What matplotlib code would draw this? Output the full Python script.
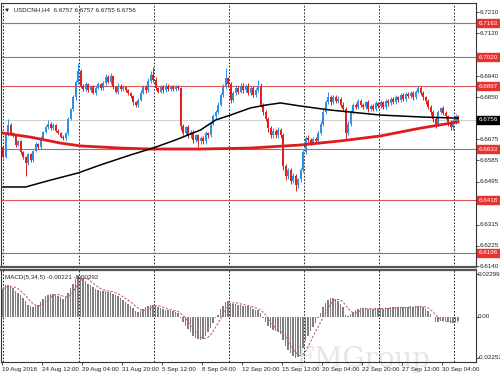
import matplotlib
matplotlib.use('Agg')
import matplotlib.pyplot as plt
import matplotlib.transforms as mtransforms
import pandas as pd

# USDCNH H4 closes, one per bar (19 Aug 2016 20:00 .. 3 Oct 2016)
closes = [
    6.6600, 6.6690, 6.6735, 6.6700, 6.6690, 6.6650, 6.6665, 6.6620, 6.6600, 6.6575,
    6.6610, 6.6585, 6.6625, 6.6655, 6.6640, 6.6680, 6.6705, 6.6725, 6.6740, 6.6720,
    6.6735, 6.6710, 6.6700, 6.6685, 6.6680, 6.6700, 6.6760, 6.6800, 6.6850, 6.6915,
    6.6960, 6.6900, 6.6885, 6.6905, 6.6880, 6.6895, 6.6870, 6.6890, 6.6905, 6.6890,
    6.6910, 6.6935, 6.6915, 6.6940, 6.6895, 6.6875, 6.6900, 6.6885, 6.6895, 6.6880,
    6.6870, 6.6855, 6.6830, 6.6820, 6.6840, 6.6870, 6.6895, 6.6880, 6.6920, 6.6945,
    6.6925, 6.6890, 6.6875, 6.6895, 6.6880, 6.6900, 6.6885, 6.6895, 6.6885, 6.6895,
    6.6890, 6.6730, 6.6700, 6.6725, 6.6690, 6.6705, 6.6670, 6.6690, 6.6665, 6.6680,
    6.6665, 6.6700, 6.6690, 6.6740, 6.6770, 6.6790, 6.6820, 6.6860, 6.6895, 6.6930,
    6.6905, 6.6840, 6.6870, 6.6890, 6.6875, 6.6900, 6.6880, 6.6900, 6.6870, 6.6890,
    6.6860, 6.6880, 6.6900, 6.6820, 6.6790, 6.6760, 6.6720, 6.6690, 6.6710, 6.6690,
    6.6715, 6.6690, 6.6560, 6.6520, 6.6545, 6.6500, 6.6520, 6.6480, 6.6505, 6.6545,
    6.6620, 6.6680, 6.6670, 6.6660, 6.6675, 6.6665, 6.6700, 6.6740, 6.6790, 6.6830,
    6.6850, 6.6830, 6.6850, 6.6835, 6.6845, 6.6820, 6.6800, 6.6700, 6.6740, 6.6790,
    6.6820, 6.6810, 6.6835, 6.6820, 6.6810, 6.6830, 6.6800, 6.6815, 6.6800, 6.6825,
    6.6815, 6.6830, 6.6810, 6.6835, 6.6825, 6.6845, 6.6830, 6.6850, 6.6840, 6.6860,
    6.6845, 6.6865, 6.6855, 6.6870, 6.6850, 6.6875, 6.6890, 6.6870, 6.6850, 6.6835,
    6.6810, 6.6790, 6.6760, 6.6740, 6.6790, 6.6805, 6.6785, 6.6770, 6.6745, 6.6725,
    6.6750, 6.6770, 6.6756,
]
first_open = 6.6640

# upper / lower wick length in pips
upper_pips = [
    5, 6, 25, 8, 4, 5, 6, 4, 5, 4,
    6, 5, 4, 7, 5, 6, 5, 8, 15, 6,
    7, 5, 6, 4, 5, 6, 8, 7, 9, 10,
    35, 12, 8, 10, 7, 9, 6, 8, 12, 7,
    10, 15, 8, 12, 6, 5, 9, 6, 8, 5,
    6, 5, 4, 6, 8, 10, 7, 9, 12, 15,
    35, 10, 6, 8, 7, 9, 6, 8, 7, 6,
    8, 6, 10, 7, 9, 6, 8, 7, 6, 8,
    7, 9, 6, 8, 10, 7, 9, 8, 10, 45,
    8, 10, 9, 12, 8, 9, 10, 8, 9, 10,
    8, 9, 25, 10, 8, 7, 9, 8, 10, 7,
    9, 8, 10, 9, 8, 9, 10, 8, 7, 9,
    8, 7, 10, 9, 8, 7, 10, 9, 12, 10,
    25, 10, 12, 9, 10, 8, 9, 10, 9, 8,
    7, 8, 9, 10, 8, 7, 9, 8, 7, 9,
    8, 9, 7, 8, 9, 8, 7, 9, 8, 10,
    8, 9, 8, 7, 9, 8, 10, 8, 9, 7,
    8, 10, 7, 9, 8, 6, 10, 8, 7, 9,
    8, 10, 5,
]
lower_pips = [
    6, 5, 4, 6, 5, 8, 5, 6, 7, 55,
    8, 6, 7, 5, 8, 6, 5, 4, 6, 5,
    6, 7, 5, 6, 8, 10, 6, 5, 8, 10,
    8, 10, 7, 9, 6, 8, 7, 9, 6, 8,
    7, 9, 6, 8, 10, 7, 9, 8, 6, 7,
    8, 9, 10, 12, 8, 6, 7, 9, 8, 7,
    9, 8, 7, 6, 9, 8, 7, 6, 8, 7,
    8, 15, 10, 9, 12, 10, 12, 9, 25, 10,
    10, 9, 12, 8, 7, 9, 8, 7, 9, 8,
    10, 12, 8, 9, 10, 8, 9, 7, 10, 8,
    9, 8, 7, 10, 12, 9, 15, 12, 10, 12,
    10, 12, 15, 18, 12, 15, 10, 25, 12, 10,
    8, 10, 12, 9, 10, 8, 9, 7, 8, 9,
    8, 10, 9, 8, 10, 12, 9, 30, 10, 8,
    9, 8, 7, 9, 8, 7, 10, 8, 9, 7,
    8, 9, 7, 8, 9, 8, 7, 9, 8, 7,
    8, 9, 7, 8, 9, 8, 7, 9, 10, 12,
    10, 12, 15, 20, 12, 10, 9, 12, 15, 14,
    12, 10, 6,
]

# MACD(5,34,5) main values, in units of 0.001
macd_main = [
    15, 17, 17, 16.5, 15.5, 14, 13, 11.5, 10, 8.5,
    6.5, 5.5, 5, 5.5, 6.5, 8, 9.5, 11, 12, 12.5,
    12.5, 12, 11, 10.5, 9.5, 10.5, 13, 15.5, 18, 20.5,
    22, 22, 21, 19.5, 18, 17, 16, 15, 14.5, 14,
    14, 14, 13.5, 13.5, 12.5, 11.5, 11, 10, 9, 8,
    7, 6, 4.5, 3, 2.5, 3, 4, 5, 5.5, 6.5,
    6.5, 6, 5, 4.5, 4, 3.5, 3.5, 3, 3, 2.5,
    2, -1, -3, -5, -7, -8.5, -10.5, -11.5, -12.5, -13,
    -12, -10.5, -8.5, -6, -3.5, -1, 1, 4, 6, 8,
    8.5, 7.5, 7, 7, 6.5, 6.5, 6, 5.5, 5.5, 5,
    4, 3.5, 3.5, 2, -1, -3, -5, -6.5, -7.5, -8,
    -8.5, -9.5, -13, -16, -18, -20, -21.5, -22.5, -22, -20.5,
    -17, -13.5, -10.5, -8, -5.5, -3.5, -1, 2, 5, 7.5,
    9, 10, 10, 9.5, 8.5, 7, 5, 1, 0.5, 1.5,
    2.5, 3.5, 4, 4.5, 4.5, 4.5, 4, 4, 4, 4.5,
    4.5, 4.5, 4, 4.5, 4.5, 5, 5, 5, 5, 5,
    5, 5, 5, 5.5, 5, 5.5, 6, 5.5, 5, 4,
    3, 1.5, -0.5, -3, -3, -2.5, -2.5, -2.5, -3, -3.5,
    -3.5, -3, -2.21,
]

# moving averages (bar index, price)
ma_black_idx = [0, 9, 19, 30, 39, 51, 60, 69, 79, 85, 91, 99, 105, 111, 119, 131, 151, 167, 182]
ma_black_val = [6.6473, 6.6473, 6.6502, 6.6532, 6.6566, 6.6608, 6.6637, 6.6671, 6.6713, 6.6755,
                6.6776, 6.6806, 6.6818, 6.6827, 6.6814, 6.6797, 6.6776, 6.6768, 6.6763]
ma_red_idx = [0, 11, 23, 31, 47, 59, 79, 99, 119, 135, 151, 167, 182]
ma_red_val = [6.6700, 6.6683, 6.6658, 6.6646, 6.6637, 6.6633, 6.6633, 6.6637, 6.6650, 6.6667,
              6.6688, 6.6721, 6.6747]

levels = [6.7163, 6.7020, 6.6897, 6.6633, 6.6418, 6.6196]
price_ticks = [6.7210, 6.7120, 6.6940, 6.6850, 6.6675, 6.6585, 6.6495, 6.6405, 6.6315, 6.6225, 6.6140]
last_price = 6.6756

date_labels = ['19 Aug 2016', '24 Aug 12:00', '29 Aug 04:00', '31 Aug 20:00', '5 Sep 12:00',
               '8 Sep 04:00', '12 Sep 20:00', '15 Sep 12:00', '20 Sep 04:00', '22 Sep 20:00',
               '27 Sep 12:00', '30 Sep 04:00']

BLUE = '#2b8fe6'
RED = '#e01f1f'
LEVEL = '#d85a55'
FS = 4.5
plt.rcParams['font.family'] = ['Liberation Sans', 'DejaVu Sans']

fig = plt.figure(figsize=(5, 3.75), dpi=100)
ax = fig.add_axes([0.002, 0.288, 0.95, 0.704])
axm = fig.add_axes([0.002, 0.0347, 0.95, 0.2453], sharex=ax)

n = len(closes)
opens = [first_open] + closes[:-1]

# candles
for i in range(n):
    o, c = opens[i], closes[i]
    col = BLUE if c >= o else RED
    hi = max(o, c) + upper_pips[i] * 0.0001
    lo = min(o, c) - lower_pips[i] * 0.0001
    ax.vlines(i, lo, hi, color=col, lw=0.7, zorder=3)
    ax.bar(i, max(abs(c - o), 0.00008), bottom=min(o, c), width=0.6, color=col, lw=0, zorder=3)

ax.plot(ma_red_idx, ma_red_val, color='#dd1c1c', lw=2.0, zorder=4)
ax.plot(ma_black_idx, ma_black_val, color='black', lw=1.1, zorder=4)

for lv in levels:
    ax.axhline(lv, color=LEVEL, lw=0.8, zorder=2)
ax.axhline(last_price, color='#c8c8c8', lw=0.6, zorder=2)

# vertical dotted grid
grid_x = [-0.1, 30.4, 60.4, 90.4, 120.4, 150.4, 180.4]
for a in (ax, axm):
    for gx in grid_x:
        a.axvline(gx, color='black', lw=0.6, ls=(0, (2, 2)), zorder=1)

ax.set_xlim(-0.8, 189.2)
ax.set_ylim(6.6136, 6.7248)

# MACD panel
macd = pd.Series(macd_main) * 0.001
signal = macd.rolling(5, min_periods=1).mean()
axm.bar(range(n), macd, width=0.55, color='#808080', lw=0, zorder=3)
axm.plot(range(n), signal, color='#cc6060', lw=0.8, ls=(0, (2, 1.5)), zorder=4)
axm.set_ylim(-0.0248, 0.0254)

# frames & ticks
for a in (ax, axm):
    for s in a.spines.values():
        s.set_color('#333333')
        s.set_linewidth(0.8)
    a.yaxis.tick_right()
    a.tick_params(axis='y', length=2, width=0.5, labelright=False, labelleft=False)
ax.spines['bottom'].set_linewidth(1.6)
ax.spines['bottom'].set_color('#555555')
axm.spines['top'].set_linewidth(1.6)
axm.spines['top'].set_color('#555555')
ax.tick_params(axis='x', bottom=False, labelbottom=False)
ax.set_yticks(price_ticks)
axm.set_yticks([0.02299, 0.0, -0.02252])

tick_pos = [-0.4 + 16 * k for k in range(len(date_labels))]
axm.set_xticks(tick_pos)
axm.set_xticklabels(date_labels, fontsize=FS, color='#222222')
axm.tick_params(axis='x', length=2, width=0.5, pad=1.5)
for lbl in axm.get_xticklabels():
    lbl.set_ha('left')

tr_main = mtransforms.blended_transform_factory(ax.transAxes, ax.transData)
tr_macd = mtransforms.blended_transform_factory(axm.transAxes, axm.transData)

for v in price_ticks:
    ax.text(1.008, v, f'{v:.4f}', transform=tr_main, fontsize=FS, va='center', ha='left',
            color='#222222', clip_on=False)
for v, s in zip([0.02299, 0.0, -0.02252], ['0.02299', '0.00', '-0.02252']):
    axm.text(1.003, v, s, transform=tr_macd, fontsize=FS, va='center', ha='left',
             color='#222222', clip_on=False)

for lv in levels:
    ax.text(1.006, lv, f'{lv:.4f}', transform=tr_main, fontsize=FS, va='center', ha='left',
            color='white', clip_on=False, zorder=10,
            bbox=dict(boxstyle='square,pad=0.25', fc='#e8322e', ec='#e8322e'))
ax.text(1.006, last_price, f'{last_price:.4f}', transform=tr_main, fontsize=FS, va='center',
        ha='left', color='white', clip_on=False, zorder=10,
        bbox=dict(boxstyle='square,pad=0.25', fc='black', ec='black'))

ax.text(0.006, 0.985, '\u25bc  USDCNH,H4  6.6757 6.6757 6.6755 6.6756', transform=ax.transAxes,
        fontsize=FS, va='top', ha='left', color='#222222')
axm.text(0.008, 0.95, 'MACD(5,34,5) -0.00221 -0.00292', transform=axm.transAxes,
         fontsize=FS, va='top', ha='left', color='#222222')

axm.text(0.62, -0.12, 'FMGroup', transform=axm.transAxes, fontsize=20, color='#e6e6e6',
         ha='left', va='bottom', family='DejaVu Serif', zorder=0, clip_on=False)

fig.savefig('out.png', dpi=100)
